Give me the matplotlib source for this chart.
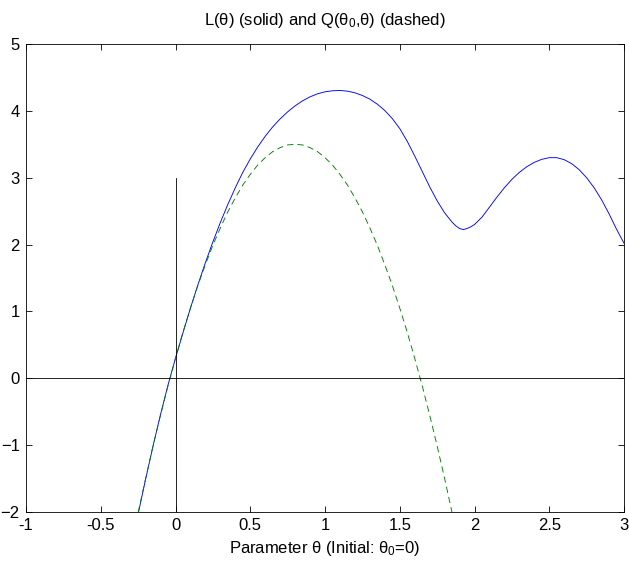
import matplotlib
matplotlib.use("Agg")
import matplotlib.pyplot as plt

plt.rcParams['font.family'] = ['Liberation Sans', 'DejaVu Sans']
plt.rcParams['mathtext.fontset'] = 'custom'
plt.rcParams['mathtext.rm'] = 'Liberation Sans'
plt.rcParams['mathtext.it'] = 'Liberation Sans'
plt.rcParams['mathtext.bf'] = 'Liberation Sans'
plt.rcParams['lines.scale_dashes'] = False

# Objective L(theta)
theta_L = [-0.25, -0.20, -0.15, -0.10, -0.05, 0.00, 0.05, 0.10, 0.15, 0.20,
           0.25, 0.30, 0.35, 0.40, 0.45, 0.50, 0.55, 0.60, 0.65, 0.70,
           0.75, 0.80, 0.85, 0.90, 0.95, 1.00, 1.05, 1.10, 1.15, 1.20,
           1.25, 1.30, 1.35, 1.40, 1.45, 1.50, 1.55, 1.60, 1.65, 1.70,
           1.75, 1.80, 1.85, 1.875, 1.90, 1.925, 1.95, 1.975, 2.00, 2.05,
           2.10, 2.15, 2.20, 2.25, 2.30, 2.35, 2.40, 2.45, 2.50, 2.55,
           2.60, 2.65, 2.70, 2.75, 2.80, 2.85, 2.90, 2.95, 3.00]
L_vals = [-2.03, -1.51, -1.01, -0.54, -0.10, 0.30, 0.68, 1.05, 1.40, 1.73,
          2.04, 2.33, 2.60, 2.85, 3.08, 3.28, 3.46, 3.62, 3.76, 3.88,
          3.985, 4.075, 4.15, 4.21, 4.255, 4.285, 4.30, 4.305, 4.295, 4.27,
          4.23, 4.175, 4.10, 4.005, 3.885, 3.735, 3.545, 3.325, 3.095, 2.865,
          2.655, 2.475, 2.335, 2.28, 2.24, 2.225, 2.24, 2.265, 2.30, 2.41,
          2.56, 2.71, 2.85, 2.975, 3.08, 3.165, 3.23, 3.275, 3.30, 3.30,
          3.27, 3.21, 3.12, 3.00, 2.85, 2.67, 2.46, 2.23, 2.02]

# Quadratic surrogate Q(theta0, theta)
theta_Q = [-0.25, -0.20, -0.15, -0.10, -0.05, 0.00, 0.05, 0.10, 0.15, 0.20,
           0.25, 0.30, 0.35, 0.40, 0.45, 0.50, 0.55, 0.60, 0.65, 0.70,
           0.75, 0.80, 0.85, 0.90, 0.95, 1.00, 1.05, 1.10, 1.15, 1.20,
           1.25, 1.30, 1.35, 1.40, 1.45, 1.50, 1.55, 1.60, 1.65, 1.70,
           1.75, 1.80, 1.85]
Q_vals = [-2.01, -1.50, -1.01, -0.55, -0.11, 0.30, 0.69, 1.05, 1.39, 1.70,
          1.99, 2.25, 2.49, 2.70, 2.89, 3.05, 3.19, 3.30, 3.39, 3.45,
          3.49, 3.50, 3.49, 3.45, 3.39, 3.30, 3.19, 3.05, 2.89, 2.70,
          2.49, 2.25, 1.99, 1.70, 1.39, 1.05, 0.69, 0.30, -0.11, -0.55,
          -1.01, -1.50, -2.01]

x_ticks = [-1, -0.5, 0, 0.5, 1, 1.5, 2, 2.5, 3]
x_tick_labels = ['-1', '-0.5', '0', '0.5', '1', '1.5', '2', '2.5', '3']
y_ticks = [-2, -1, 0, 1, 2, 3, 4, 5]

fig = plt.figure(figsize=(6.29, 5.63), dpi=100)
ax = fig.add_axes([26 / 629, 51 / 563, 598 / 629, 468 / 563])

ax.plot(theta_L, L_vals, color='blue', lw=0.65, solid_joinstyle='round')
ax.plot(theta_Q, Q_vals, color=(0, 0.5, 0), lw=0.65, linestyle=(0, (4.5, 3)))

# reference axes through the origin
ax.axhline(0, color='black', lw=0.6)
ax.plot([0, 0], [-2, 3], color='black', lw=0.6)

ax.set_xlim(-1, 3)
ax.set_ylim(-2, 5)
ax.set_xticks(x_ticks)
ax.set_xticklabels(x_tick_labels)
ax.set_yticks(y_ticks)

for s in ax.spines.values():
    s.set_linewidth(0.6)
    s.set_color('black')
ax.tick_params(direction='in', top=True, right=True, length=4, width=0.6,
               labelsize=12, pad=4.5)

ax.set_title(r"L($\theta$) (solid) and Q($\theta_0$,$\theta$) (dashed)",
             fontsize=12, pad=14)
ax.set_xlabel(r"Parameter $\theta$ (Initial: $\theta_0$=0)", fontsize=12,
              labelpad=4)

fig.savefig("out.png", dpi=100)
